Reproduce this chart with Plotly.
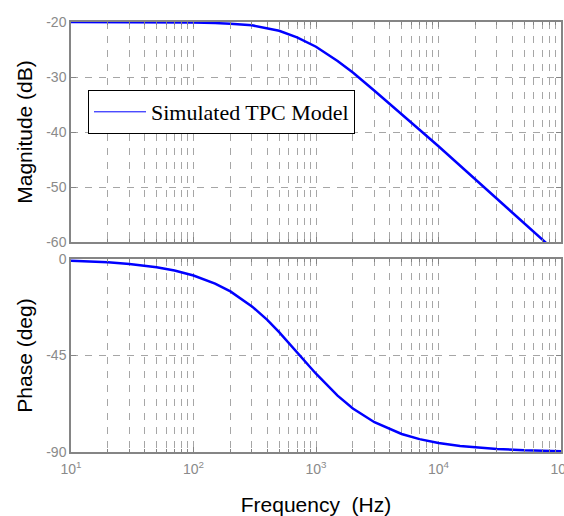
import plotly.graph_objects as go

# Frequencies (Hz) and values
freq = [10, 20, 30, 50, 70, 100, 150, 200, 300, 400, 500, 700, 1000, 1500, 2000,
        3000, 5000, 7000, 10000, 15000, 20000, 30000, 50000, 70000, 100000]
magnitude_db = [-20.0, -20.0, -20.0, -20.0, -20.0, -20.1, -20.2, -20.3, -20.6, -21.1,
                -21.6, -22.8, -24.5, -27.1, -29.2, -32.5, -36.7, -39.6, -42.6, -46.1,
                -48.6, -52.2, -56.6, -59.5, -62.6]
phase_deg = [-0.8, -1.5, -2.3, -3.9, -5.4, -7.7, -11.5, -15.1, -22.1, -28.4, -34.1,
             -43.4, -53.5, -63.7, -69.7, -76.1, -81.6, -84.0, -85.8, -87.2, -87.9,
             -88.6, -89.2, -89.4, -89.6]

x_tickvals = [10, 100, 1000, 10000, 100000]
x_ticktext = ["10<sup>1</sup>", "10<sup>2</sup>", "10<sup>3</sup>", "10<sup>4</sup>", "10<sup>5</sup>"]
mag_tickvals = [-20, -30, -40, -50, -60]
mag_ticktext = ["-20", "-30", "-40", "-50", "-60"]
ph_tickvals = [0, -45, -90]
ph_ticktext = ["0", "-45", "-90"]

legend_label = "Simulated TPC Model"

blue = "#0000ff"
grid_c = "#a6a6a6"
axis_c = "#858585"
tick_font = dict(family="Liberation Sans, Arial", size=14, color="#8a8a8a")
title_font = dict(family="Liberation Sans, Arial", size=21, color="black")

fig = go.Figure()
fig.add_trace(go.Scatter(x=freq, y=magnitude_db, mode="lines",
                         line=dict(color=blue, width=2.5), showlegend=False,
                         xaxis="x", yaxis="y"))
fig.add_trace(go.Scatter(x=freq, y=phase_deg, mode="lines",
                         line=dict(color=blue, width=2.5), showlegend=False,
                         xaxis="x2", yaxis="y2"))
# legend entry with thin line sample
fig.add_trace(go.Scatter(x=[None], y=[None], mode="lines", name=legend_label,
                         line=dict(color=blue, width=1), showlegend=True,
                         xaxis="x", yaxis="y"))

common_x = dict(type="log", range=[1, 5], showline=True, linecolor=axis_c, linewidth=1.5,
                mirror="ticks", ticks="inside", ticklen=5, tickcolor=axis_c,
                showgrid=True, gridcolor=grid_c, griddash="7px,7px", gridwidth=1,
                tickvals=x_tickvals, zeroline=False, automargin=False,
                ticklabeloverflow="allow",
                minor=dict(dtick="D1", showgrid=True, gridcolor=grid_c,
                           griddash="7px,7px", gridwidth=1, ticks="inside",
                           ticklen=3, tickcolor=axis_c))
common_y = dict(showline=True, linecolor=axis_c, linewidth=1.5, mirror="ticks",
                ticks="inside", ticklen=5, tickcolor=axis_c, showgrid=True,
                gridcolor=grid_c, griddash="7px,7px", gridwidth=1, zeroline=False,
                tickfont=tick_font, automargin=False)

top_dom = [(452 - 242) / 430, 1.0]
bot_dom = [0.0, (452 - 259) / 430]

fig.update_layout(
    width=564, height=516,
    margin=dict(l=71, r=3, t=22, b=64),
    paper_bgcolor="white", plot_bgcolor="white",
    xaxis=dict(**common_x, domain=[0, 1], anchor="y", showticklabels=False,
               matches="x2"),
    yaxis=dict(**common_y, domain=top_dom, anchor="x", range=[-60, -20],
               tickvals=mag_tickvals, ticktext=mag_ticktext,
               title=dict(text="Magnitude (dB)", font=title_font, standoff=8)),
    xaxis2=dict(**common_x, domain=[0, 1], anchor="y2", ticktext=x_ticktext,
                tickfont=dict(family="Liberation Sans, Arial", size=14, color="#8a8a8a"),
                ticklabelstandoff=3,
                title=dict(text="Frequency  (Hz)", font=title_font, standoff=22)),
    yaxis2=dict(**common_y, domain=bot_dom, anchor="x2", range=[-90, 0],
                tickvals=ph_tickvals, ticktext=ph_ticktext,
                title=dict(text="Phase (deg)", font=title_font, standoff=8)),
    legend=dict(x=(88 - 71) / 490, y=(452 - 90) / 430, xanchor="left", yanchor="top",
                bordercolor="black", borderwidth=1, bgcolor="white",
                font=dict(family="Liberation Serif, Times New Roman", size=22, color="black"),
                itemwidth=52, tracegroupgap=0),
)

fig.write_html("out.html", config={"displayModeBar": False},
               post_script="document.body.style.margin='0';document.body.style.overflow='hidden';")
